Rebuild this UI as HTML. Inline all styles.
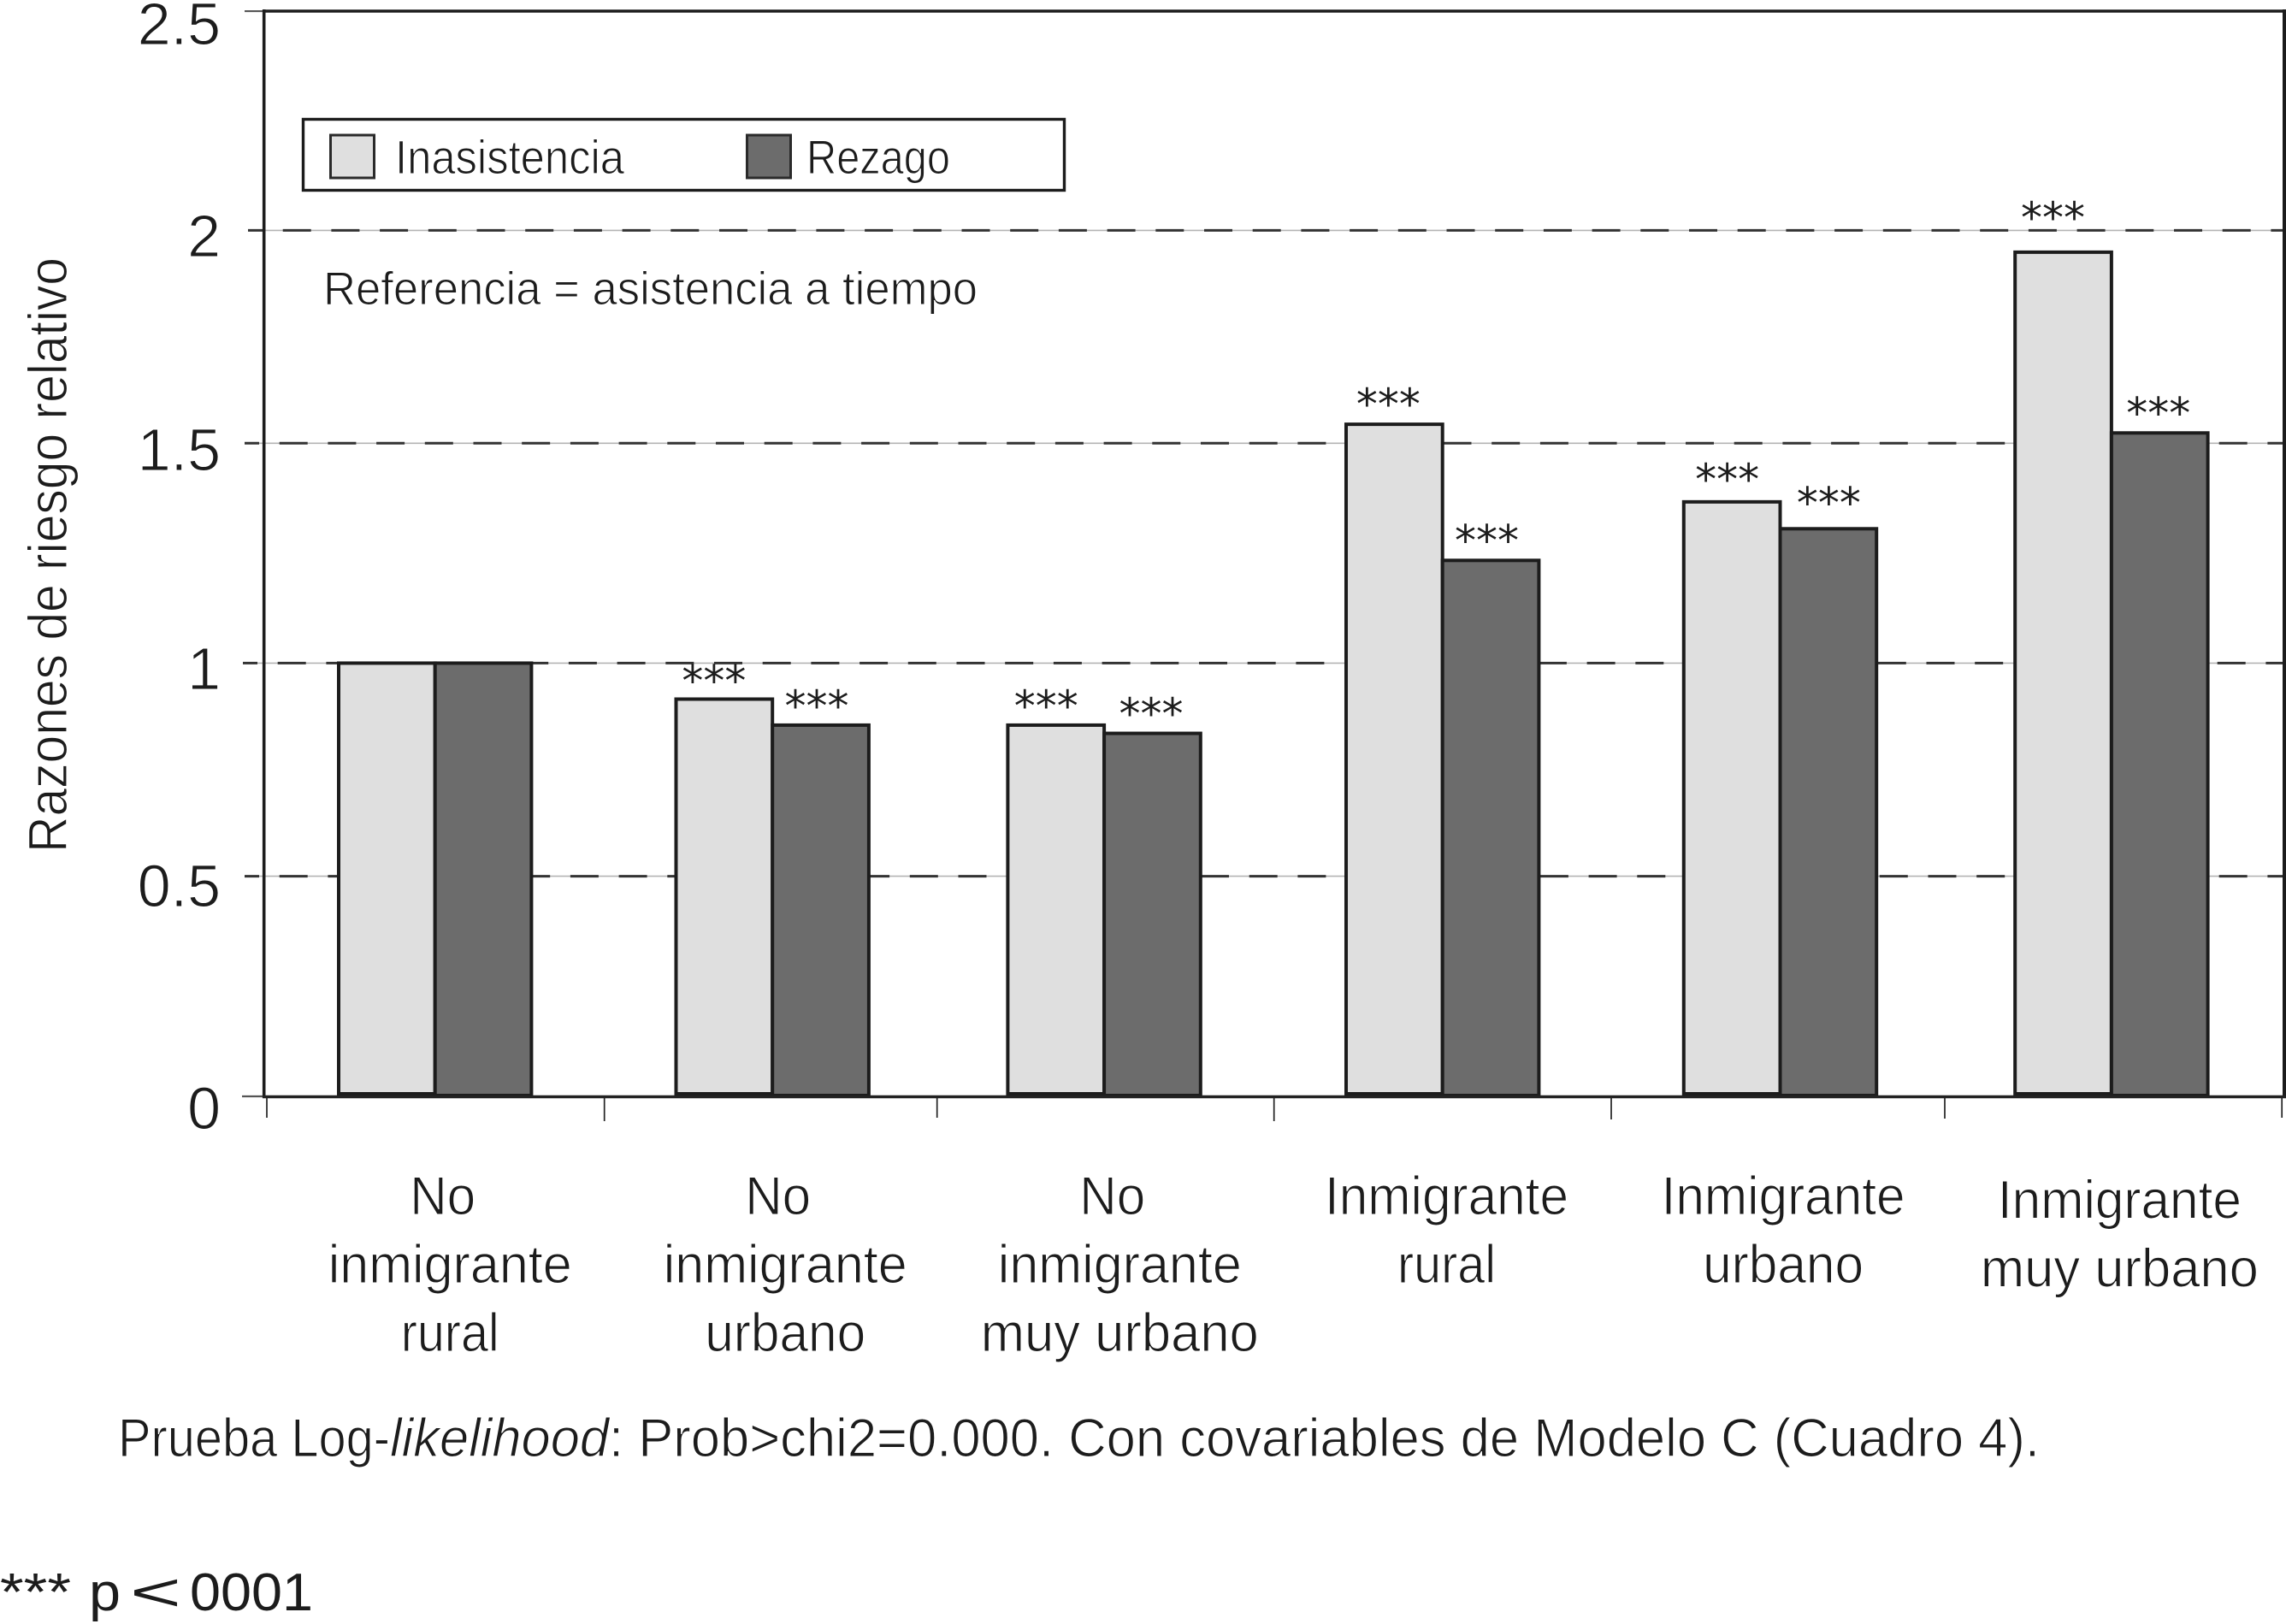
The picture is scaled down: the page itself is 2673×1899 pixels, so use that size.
<!DOCTYPE html>
<html lang="es">
<head>
<meta charset="utf-8">
<title>Razones de riesgo relativo</title>
<style>
html,body{margin:0;padding:0;background:#fff;}
svg{display:block;}
text{font-family:"Liberation Sans",sans-serif;fill:#1c1c1c;}
.thin{stroke:#fff;stroke-width:1.1px;}
</style>
</head>
<body>
<svg id="chart" xmlns="http://www.w3.org/2000/svg" width="2673" height="1899" viewBox="0 0 2673 1899">
  <rect x="0" y="0" width="2673" height="1899" fill="#fff"/>
  <g id="grid"></g>
  <g id="bars"></g>
  <line x1="307" y1="13" x2="2673" y2="13" stroke="#1c1c1c" stroke-width="3.6"/>
  <line x1="308.7" y1="11" x2="308.7" y2="1284" stroke="#1c1c1c" stroke-width="3.6"/>
  <line x1="2671" y1="11" x2="2671" y2="1284" stroke="#1c1c1c" stroke-width="4"/>
  <line x1="307" y1="1282.5" x2="2673" y2="1282.5" stroke="#222" stroke-width="3.4"/>
  <g id="axes"></g>
  <g id="stars"></g>

  <g>
    <rect x="354.5" y="139.5" width="890" height="83" fill="#fff" stroke="#1c1c1c" stroke-width="3.4"/>
    <rect x="386.5" y="158" width="51" height="50" fill="#dfdfdf" stroke="#2a2a2a" stroke-width="3"/>
    <text class="thin" x="462" y="203" font-size="56" textLength="268" lengthAdjust="spacingAndGlyphs">Inasistencia</text>
    <rect x="873.5" y="158" width="51" height="50" fill="#6c6c6c" stroke="#2a2a2a" stroke-width="3"/>
    <text class="thin" x="943" y="203" font-size="56" textLength="168" lengthAdjust="spacingAndGlyphs">Rezago</text>
  </g>

  <text class="thin" x="378" y="356" font-size="55" textLength="765" lengthAdjust="spacingAndGlyphs">Referencia = asistencia a tiempo</text>
  <text class="thin" transform="translate(78 997) rotate(-90)" x="0" y="0" font-size="64" textLength="696" lengthAdjust="spacingAndGlyphs">Razones de riesgo relativo</text>

  <g>
    <text class="thin" x="138" y="1703" font-size="63" textLength="318" lengthAdjust="spacingAndGlyphs">Prueba Log-</text>
    <text class="thin" x="456" y="1703" font-size="63" font-style="italic" textLength="256" lengthAdjust="spacingAndGlyphs">likelihood</text>
    <text class="thin" x="712" y="1703" font-size="63" textLength="1673" lengthAdjust="spacingAndGlyphs">: Prob&gt;chi2=0.000. Con covariables de Modelo C (Cuadro 4).</text>
  </g>
  <g>
    <text x="0" y="1883" font-size="62" textLength="83" lengthAdjust="spacingAndGlyphs">***</text>
    <text x="104" y="1883" font-size="62" textLength="37" lengthAdjust="spacingAndGlyphs">p</text>
    <text x="152" y="1883" font-size="62" textLength="60" lengthAdjust="spacingAndGlyphs">&lt;</text>
    <text x="222" y="1883" font-size="62" textLength="144" lengthAdjust="spacingAndGlyphs">0001</text>
  </g>
</svg>

<script>
// ---- chart data ----
const categories = [
  ["No", "inmigrante", "rural"],
  ["No", "inmigrante", "urbano"],
  ["No", "inmigrante", "muy urbano"],
  ["Inmigrante", "rural"],
  ["Inmigrante", "urbano"],
  ["Inmigrante", "muy urbano"]
];
const inasistencia = [0.997, 0.914, 0.854, 1.548, 1.369, 1.945];
const rezago = [0.997, 0.854, 0.835, 1.234, 1.307, 1.528];
const inasistenciaStars = ["", "***", "***", "***", "***", "***"];
const rezagoStars = ["", "***", "***", "***", "***", "***"];
const yTicks = [0, 0.5, 1, 1.5, 2, 2.5];
const yTickLabels = ["0", "0.5", "1", "1.5", "2", "2.5"];

// ---- layout tweaks (hand-drawn offsets in the original artwork) ----
const groupNudge = [0, 2.4, -1.8, 1.7, 4.4, -0.3];
const labelCenterNudge = [17.5, 15, 18.2, 4.8, 3.6, 9.5];
const labelLineNudge = [0, 0, 0, 0, 0, 4.3];
const gridNudge = [1.2, -2.75, 1.5, -2.15, 2.4, -0.5];
const gridStubStart = [283, 286, 284, 286, 290, 286];
const tickLabelDrop = [38, 35.4, 30.6, 31.7, 30.6, 39];
const lightStarShift = [0, -12, -11.5, -7, -5.5, -12];
const lightStarRise = [0, 41, 42, 43, 46, 60];
const darkStarShift = [0, -4.5, -1.5, -4.5, 0.5, -1.5];
const darkStarRise = [0, 42, 42.7, 43, 50, 43];
const lineWidths = {"No": 77, "inmigrante": 285, "Inmigrante": 285, "rural": 115, "urbano": 188, "muy urbano": 325};

// ---- axis functions ----
const Y0 = 1280.8, Y_UNIT = 506.9, X0 = 396, GROUP_STEP = 392.1, BAR_W = 112.7;
function yScale(v) { return Y0 - v * Y_UNIT; }
function xScale(group, series) { return X0 + group * GROUP_STEP + groupNudge[group] + series * BAR_W; }

const NS = "http://www.w3.org/2000/svg";
function make(tag, parentId, attrs) {
  const el = document.createElementNS(NS, tag);
  for (const k in attrs) el.setAttribute(k, attrs[k]);
  document.getElementById(parentId).appendChild(el);
  return el;
}

// gridlines and y ticks
yTicks.forEach(function (t, i) {
  const y = yScale(t) + gridNudge[i];
  const x1 = gridStubStart[i];
  const inner = i > 0 && i < yTicks.length - 1;
  const hair = make("line", "grid", {x1: x1, y1: y, x2: inner ? 2671 : 308, y2: y, stroke: inner ? "#b4b4b4" : "#555", "stroke-width": inner ? 1.6 : 2.2});
  
  
  if (inner) {
    const dash = make("line", "grid", {x1: x1, y1: y, x2: 2671, y2: y, stroke: "#333", "stroke-width": 3, "stroke-dasharray": "33 23.7", "stroke-dashoffset": 16});
    
    
  }
  const label = make("text", "axes", {x: 258, y: y + tickLabelDrop[i], "font-size": 70, "text-anchor": "end", "class": "thin"});
  label.textContent = yTickLabels[i];
  
  
});

// bars
function drawBar(group, series, value, fill, bottomGap) {
  const x = xScale(group, series);
  const top = yScale(value);
  const bar = make("rect", "bars", {
    x: x, y: top, width: BAR_W, height: Y0 - bottomGap - top,
    fill: fill, stroke: "#1c1c1c", "stroke-width": 4
  });
  return bar;
}
inasistencia.forEach(function (v, i) {
  const bar = drawBar(i, 0, v, "#dfdfdf", 1.8);
  
  
});
rezago.forEach(function (v, i) {
  const bar = drawBar(i, 1, v, "#6c6c6c", -0.2);
  
  
});

// significance stars: 50px DejaVu has a 0.742em top over the baseline
function drawStars(text, group, series, value, shift, rise) {
  const cx = xScale(group, series) + BAR_W / 2 + shift;
  const s = make("text", "stars", {x: cx, y: yScale(value) - rise + 37, "font-size": 50, "text-anchor": "middle"});
  s.style.fontFamily = '"DejaVu Sans",sans-serif';
  s.textContent = text;
  return s;
}
inasistenciaStars.forEach(function (txt, i) {
  if (!txt) return;
  const s = drawStars(txt, i, 0, inasistencia[i], lightStarShift[i], lightStarRise[i]);
  
  
});
rezagoStars.forEach(function (txt, i) {
  if (!txt) return;
  const s = drawStars(txt, i, 1, rezago[i], darkStarShift[i], darkStarRise[i]);
  
  
});

// x ticks: boundaries between categories
const xTickLengths = [25, 29, 25, 29, 27, 26, 25];
for (let i = 0; i <= categories.length; i++) {
  const x = 312 + i * 392.7 + [0, 2, -1.7, -0.4, 1.2, -1.5, 0][i];
  const tick = make("line", "axes", {x1: x, y1: 1282, x2: x, y2: 1282 + xTickLengths[i], stroke: "#222", "stroke-width": 1.7});
  
  
}

// category labels
categories.forEach(function (lines, i) {
  const cx = xScale(i, 1) + labelCenterNudge[i];
  lines.forEach(function (line, j) {
    const w = lineWidths[line];
    const shift = line === "No" ? -8.5 : 0;
    const t = make("text", "axes", {
      x: cx + shift - w / 2, y: 1420 + j * 80 + labelLineNudge[i],
      "font-size": 63, textLength: w, lengthAdjust: "spacingAndGlyphs", "class": "thin"
    });
    t.textContent = line;
    
    
  });
});
</script>
</body>
</html>
